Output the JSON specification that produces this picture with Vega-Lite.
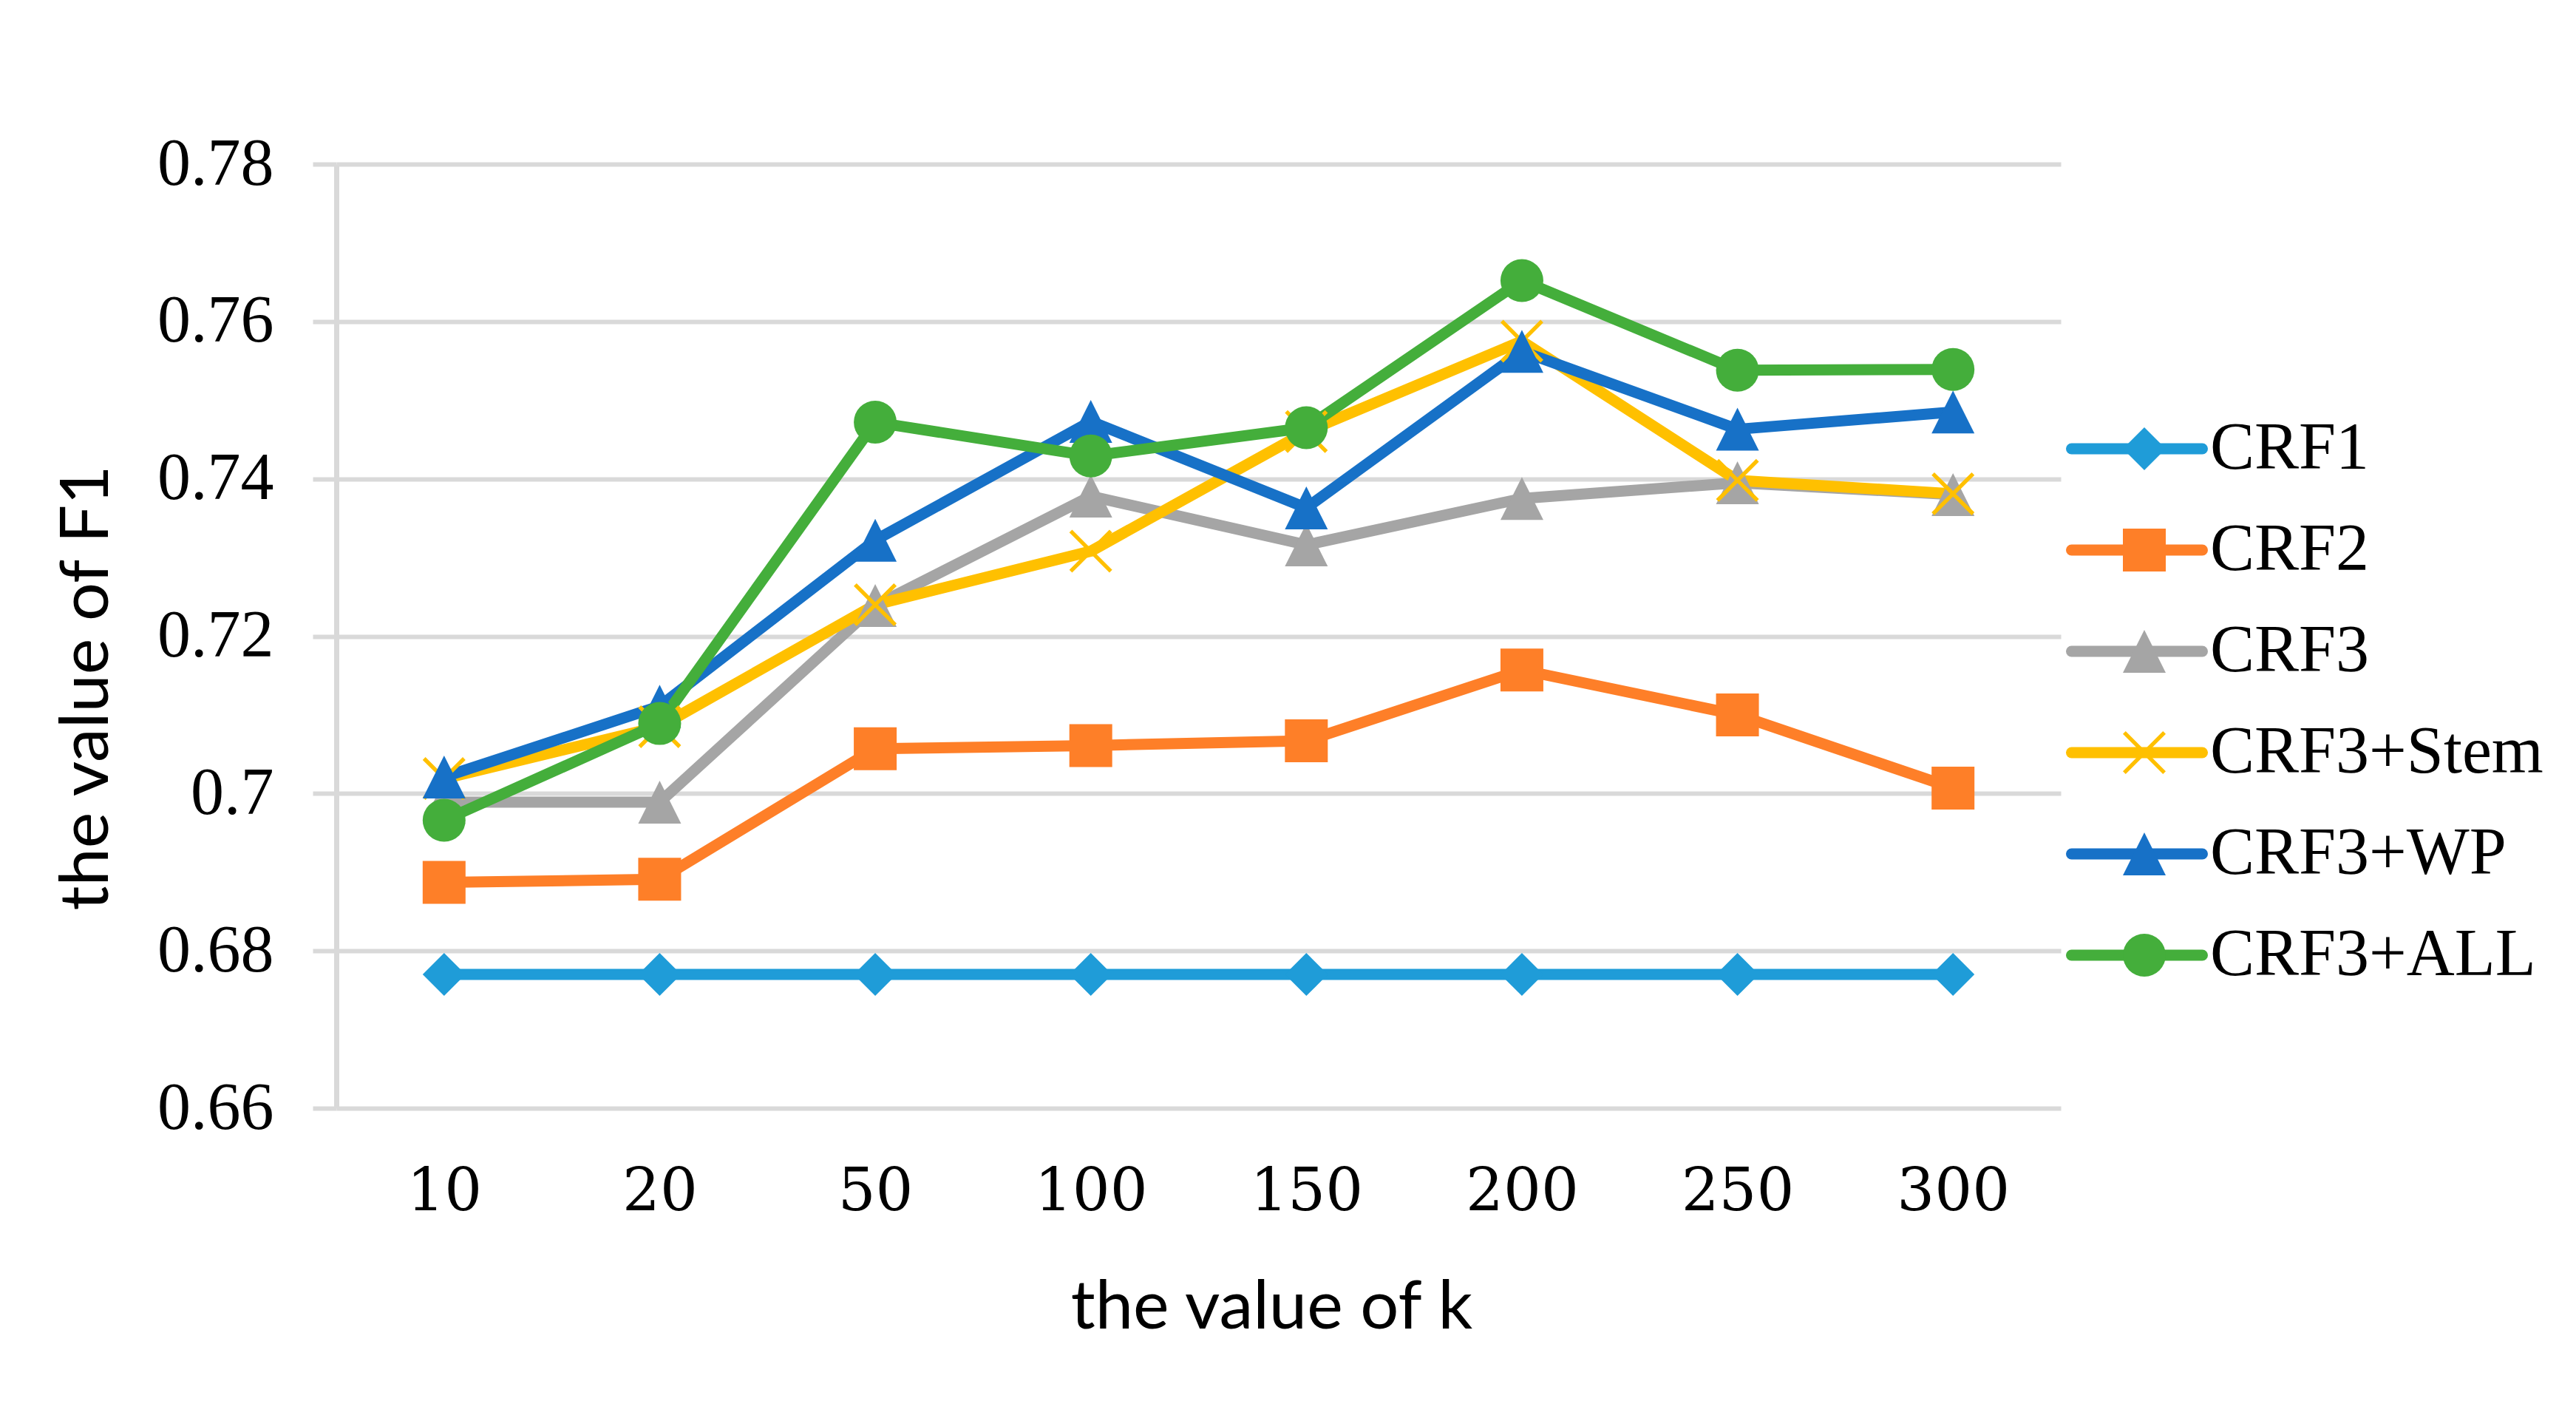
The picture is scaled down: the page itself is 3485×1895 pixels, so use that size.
{
  "$schema": "https://vega.github.io/schema/vega-lite/v6.json",
  "width": 2333,
  "height": 1277,
  "autosize": {"type": "none"},
  "padding": {"left": 455, "top": 222, "right": 697, "bottom": 396},
  "background": "white",
  "config": {
    "view": {"stroke": null},
    "axis": {"gridColor": "#d9d9d9", "gridWidth": 6}
  },
  "data": {
    "values": [
      {"k": 10, "series": "CRF1", "f1": 0.677},
      {"k": 20, "series": "CRF1", "f1": 0.677},
      {"k": 50, "series": "CRF1", "f1": 0.677},
      {"k": 100, "series": "CRF1", "f1": 0.677},
      {"k": 150, "series": "CRF1", "f1": 0.677},
      {"k": 200, "series": "CRF1", "f1": 0.677},
      {"k": 250, "series": "CRF1", "f1": 0.677},
      {"k": 300, "series": "CRF1", "f1": 0.677},
      {"k": 10, "series": "CRF2", "f1": 0.6887},
      {"k": 20, "series": "CRF2", "f1": 0.6891},
      {"k": 50, "series": "CRF2", "f1": 0.7057},
      {"k": 100, "series": "CRF2", "f1": 0.7061},
      {"k": 150, "series": "CRF2", "f1": 0.7067},
      {"k": 200, "series": "CRF2", "f1": 0.7157},
      {"k": 250, "series": "CRF2", "f1": 0.71},
      {"k": 300, "series": "CRF2", "f1": 0.7007},
      {"k": 10, "series": "CRF3", "f1": 0.6989},
      {"k": 20, "series": "CRF3", "f1": 0.6989},
      {"k": 50, "series": "CRF3", "f1": 0.7239},
      {"k": 100, "series": "CRF3", "f1": 0.7378},
      {"k": 150, "series": "CRF3", "f1": 0.7316},
      {"k": 200, "series": "CRF3", "f1": 0.7375},
      {"k": 250, "series": "CRF3", "f1": 0.7395},
      {"k": 300, "series": "CRF3", "f1": 0.738},
      {"k": 10, "series": "CRF3+Stem", "f1": 0.7019},
      {"k": 20, "series": "CRF3+Stem", "f1": 0.7085},
      {"k": 50, "series": "CRF3+Stem", "f1": 0.724},
      {"k": 100, "series": "CRF3+Stem", "f1": 0.7308},
      {"k": 150, "series": "CRF3+Stem", "f1": 0.746},
      {"k": 200, "series": "CRF3+Stem", "f1": 0.7575},
      {"k": 250, "series": "CRF3+Stem", "f1": 0.7398},
      {"k": 300, "series": "CRF3+Stem", "f1": 0.7381},
      {"k": 10, "series": "CRF3+WP", "f1": 0.7021},
      {"k": 20, "series": "CRF3+WP", "f1": 0.7111},
      {"k": 50, "series": "CRF3+WP", "f1": 0.7322},
      {"k": 100, "series": "CRF3+WP", "f1": 0.7473},
      {"k": 150, "series": "CRF3+WP", "f1": 0.7363},
      {"k": 200, "series": "CRF3+WP", "f1": 0.7562},
      {"k": 250, "series": "CRF3+WP", "f1": 0.7463},
      {"k": 300, "series": "CRF3+WP", "f1": 0.7485},
      {"k": 10, "series": "CRF3+ALL", "f1": 0.6966},
      {"k": 20, "series": "CRF3+ALL", "f1": 0.7089},
      {"k": 50, "series": "CRF3+ALL", "f1": 0.7472},
      {"k": 100, "series": "CRF3+ALL", "f1": 0.7429},
      {"k": 150, "series": "CRF3+ALL", "f1": 0.7465},
      {"k": 200, "series": "CRF3+ALL", "f1": 0.7652},
      {"k": 250, "series": "CRF3+ALL", "f1": 0.7538},
      {"k": 300, "series": "CRF3+ALL", "f1": 0.7539}
    ]
  },
  "encoding": {
    "x": {
      "field": "k",
      "type": "ordinal",
      "sort": [10, 20, 50, 100, 150, 200, 250, 300],
      "scale": {"type": "point", "padding": 0.5},
      "axis": {
        "title": "the value of k",
        "domain": false,
        "ticks": false,
        "grid": false,
        "labelAngle": 0,
        "labelFont": "DejaVu Serif",
        "labelFontSize": 80,
        "labelColor": "#000000",
        "labelPadding": 74,
        "titleFont": "Lato",
        "titleFontSize": 92,
        "titleFontWeight": "normal",
        "titleColor": "#000000",
        "titleX": 1265,
        "titleY": 297,
        "titleBaseline": "alphabetic",
        "titleAnchor": null
      }
    },
    "y": {
      "field": "f1",
      "type": "quantitative",
      "scale": {"domain": [0.66, 0.78], "nice": false, "zero": false},
      "axis": {
        "title": "the value of F1",
        "values": [0.66, 0.68, 0.7, 0.72, 0.74, 0.76, 0.78],
        "format": "~g",
        "domain": true,
        "domainColor": "#d9d9d9",
        "domainWidth": 7,
        "ticks": true,
        "tickColor": "#d9d9d9",
        "tickWidth": 6,
        "tickSize": 32,
        "grid": true,
        "labelFont": "Liberation Serif",
        "labelFontSize": 90,
        "labelColor": "#000000",
        "labelPadding": 53,
        "titleFont": "Lato",
        "titleFontSize": 92,
        "titleFontWeight": "normal",
        "titleColor": "#000000",
        "titleAngle": -90,
        "titleX": -310,
        "titleY": 708,
        "titleAlign": "center",
        "titleBaseline": "alphabetic",
        "titleAnchor": null
      }
    }
  },
  "layer": [
    {
      "mark": {"type": "line", "strokeWidth": 15, "strokeJoin": "round", "strokeCap": "round"},
      "encoding": {
        "color": {
          "field": "series",
          "type": "nominal",
          "scale": {
            "domain": ["CRF1", "CRF2", "CRF3", "CRF3+Stem", "CRF3+WP", "CRF3+ALL"],
            "range": ["#1f9cd8", "#fe7f28", "#a5a5a5", "#ffc000", "#1771c7", "#44ae3b"]
          },
          "legend": {
            "orient": "none",
            "legendX": 2393,
            "legendY": 342,
            "title": null,
            "padding": 0,
            "symbolType": "M-3,0H3",
            "symbolSize": 3481,
            "symbolStrokeWidth": 15,
            "labelFont": "Liberation Serif",
            "labelFontSize": 86,
            "labelExpr": "''",
            "labelOffset": 75,
            "rowPadding": 51,
            "encode": {"symbols": {"update": {"strokeCap": {"value": "round"}}}}
          }
        }
      }
    },
    {
      "mark": {"type": "point", "filled": true, "opacity": 1, "size": 3364},
      "encoding": {
        "color": {
          "field": "series",
          "type": "nominal",
          "scale": {
            "domain": ["CRF1", "CRF2", "CRF3", "CRF3+Stem", "CRF3+WP", "CRF3+ALL"],
            "range": ["#1f9cd8", "#fe7f28", "#a5a5a5", "#ffc000", "#1771c7", "#44ae3b"]
          },
          "legend": {
            "orient": "none",
            "legendX": 2401,
            "legendY": 340,
            "title": null,
            "padding": 0,
            "symbolSize": 3364,
            "symbolOpacity": 1,
            "labelFont": "Liberation Serif",
            "labelFontSize": 90,
            "labelColor": "#000000",
            "labelLimit": 0,
            "labelOffset": 44,
            "rowPadding": 47
          }
        },
        "shape": {
          "field": "series",
          "type": "nominal",
          "scale": {
            "domain": ["CRF1", "CRF2", "CRF3", "CRF3+Stem", "CRF3+WP", "CRF3+ALL"],
            "range": ["diamond", "square", "M0,-1L1,1L-1,1Z", "M-0.87,-1L0,-0.13L0.87,-1L1,-0.87L0.13,0L1,0.87L0.87,1L0,0.13L-0.87,1L-1,0.87L-0.13,0L-1,-0.87Z", "M0,-1L1,1L-1,1Z", "circle"]
          },
          "legend": {
            "orient": "none",
            "legendX": 2401,
            "legendY": 340,
            "title": null,
            "padding": 0,
            "symbolSize": 3364,
            "symbolOpacity": 1,
            "labelFont": "Liberation Serif",
            "labelFontSize": 90,
            "labelColor": "#000000",
            "labelLimit": 0,
            "labelOffset": 44,
            "rowPadding": 47
          }
        }
      }
    }
  ],
  "resolve": {"legend": {"color": "independent", "shape": "independent"}}
}
